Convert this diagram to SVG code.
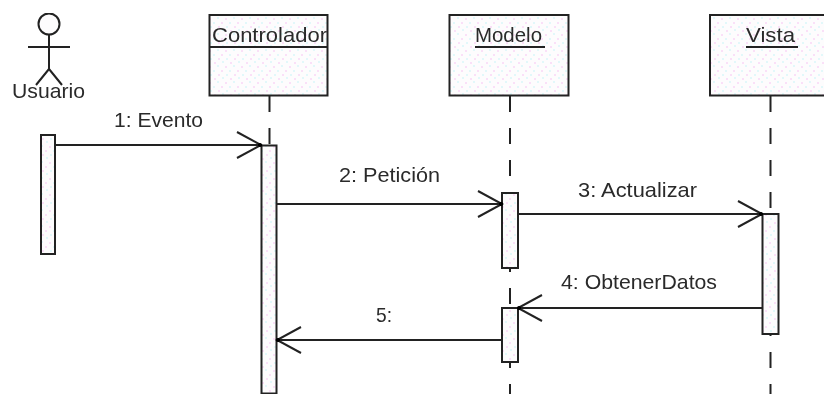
<svg xmlns="http://www.w3.org/2000/svg" width="824" height="394" viewBox="0 0 824 394">
<style>
text{font-family:"Liberation Sans",Arial,sans-serif;font-size:21px;fill:#2a2a2a}
.b{fill:url(#dots);stroke:#222;stroke-width:2}
.l{fill:none;stroke:#222;stroke-width:2}
.d{fill:none;stroke:#222;stroke-width:2;stroke-dasharray:16 16}
.m{fill:none;stroke:#222;stroke-width:2;marker-end:url(#arrow)}
.all{filter:url(#soft)}
</style>
<defs>
<filter id="soft" x="0" y="0" width="100%" height="100%"><feGaussianBlur stdDeviation="0.4"/></filter>
<pattern id="dots" width="16" height="16" patternUnits="userSpaceOnUse">
<rect width="16" height="16" fill="#fdfcfd"/>
<rect x="1" y="2" width="2" height="2" fill="#fae0f8"/>
<rect x="9" y="1" width="2" height="2" fill="#e2f8fa"/>
<rect x="5" y="6" width="2" height="2" fill="#e2f8fa"/>
<rect x="13" y="6" width="2" height="2" fill="#fae0f8"/>
<rect x="2" y="10" width="2" height="2" fill="#e2f8fa"/>
<rect x="10" y="10" width="2" height="2" fill="#fae0f8"/>
<rect x="6" y="14" width="2" height="2" fill="#fae0f8"/>
<rect x="14" y="13" width="2" height="2" fill="#e2f8fa"/>
</pattern>
<marker id="arrow" markerUnits="userSpaceOnUse" markerWidth="30" markerHeight="32" refX="25" refY="15" orient="auto">
<path d="M1 2L25 15L1 28" fill="none" stroke="#222" stroke-width="2"/>
<circle cx="24" cy="15" r="2" fill="#000"/>
</marker>
</defs>
<g class="all">
<g id="usuario">
<circle cx="49" cy="24" r="10.500" fill="#fdfcfd" stroke="#222" stroke-width="2"/>
<path class="l" d="M49 35V69M28 47H70M49 69L36 85M49 69L62 85"/>
<text x="12" y="98" textLength="73" lengthAdjust="spacingAndGlyphs">Usuario</text>
<rect class="b" x="41" y="135" width="14" height="119"/>
</g>
<g id="controlador">
<path class="d" d="M269.500 96V145"/>
<rect class="b" x="209.500" y="15" width="118" height="80.500"/>
<path class="l" d="M210 47H328"/>
<text x="212" y="42" textLength="115" lengthAdjust="spacingAndGlyphs">Controlador</text>
<rect class="b" x="261.500" y="145.500" width="15" height="248"/>
</g>
<g id="modelo">
<path class="d" d="M510 96V394"/>
<rect class="b" x="449.500" y="15" width="119" height="80.500"/>
<path class="l" d="M475 47H545"/>
<text x="475" y="42" textLength="67" lengthAdjust="spacingAndGlyphs">Modelo</text>
<rect class="b" x="502" y="193" width="16" height="75"/>
<rect class="b" x="502" y="308" width="16" height="54"/>
</g>
<g id="vista">
<path class="d" d="M770.500 96V394"/>
<rect class="b" x="710" y="15" width="122" height="80.500"/>
<path class="l" d="M746 47H798"/>
<text x="746" y="42" textLength="49" lengthAdjust="spacingAndGlyphs">Vista</text>
<rect class="b" x="762.500" y="214" width="16" height="120"/>
</g>
<g id="connectors">
<path class="m" d="M55 145H261"/>
<path class="m" d="M277 204H502"/>
<path class="m" d="M518 214H762"/>
<path class="m" d="M762 308H518"/>
<path class="m" d="M502 340H277"/>
</g>
<g id="labels">
<text x="114" y="127" textLength="89" lengthAdjust="spacingAndGlyphs">1: Evento</text>
<text x="339" y="182" textLength="101" lengthAdjust="spacingAndGlyphs">2: Petición</text>
<text x="578" y="197" textLength="119" lengthAdjust="spacingAndGlyphs">3: Actualizar</text>
<text x="561" y="289" textLength="156" lengthAdjust="spacingAndGlyphs">4: ObtenerDatos</text>
<text x="376" y="322" textLength="16" lengthAdjust="spacingAndGlyphs">5:</text>
</g>
</g>
</svg>
